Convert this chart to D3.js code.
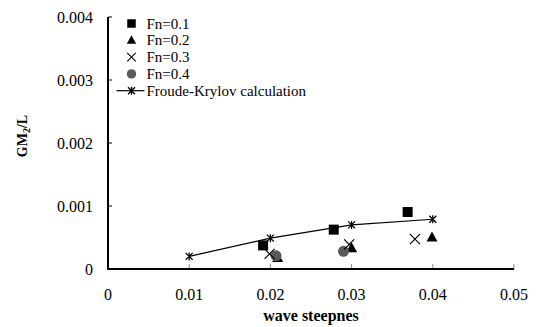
<!DOCTYPE html>
<html>
<head>
<meta charset="utf-8">
<script src="https://cdn.jsdelivr.net/npm/d3@7"></script>
<style>
  body { margin: 0; background: #fff; }
</style>
</head>
<body>
<div id="chart"></div>
<script>
// Data
const xTicks = [0, 0.01, 0.02, 0.03, 0.04, 0.05];
const yTicks = [0, 0.001, 0.002, 0.003, 0.004];

const fn01 = [[0.0191, 0.000375], [0.0278, 0.000625], [0.0369, 0.000905]];
const fn02 = [[0.0209, 0.000175], [0.0300, 0.00033], [0.0399, 0.00050]];
const fn03 = [[0.0199, 0.00024], [0.0297, 0.00039], [0.0378, 0.000475]];
const fn04 = [[0.0207, 0.00021], [0.0290, 0.00028]];
const froudeKrylov = [[0.01, 0.0002], [0.02, 0.00049], [0.03, 0.0007], [0.04, 0.00079]];

const legendItems = [
    { label: 'Fn=0.1', type: 'square' },
    { label: 'Fn=0.2', type: 'triangle' },
    { label: 'Fn=0.3', type: 'cross' },
    { label: 'Fn=0.4', type: 'circle' },
    { label: 'Froude-Krylov calculation', type: 'line' }
];

const FONT = '"Liberation Serif", "Times New Roman", Times, serif';
const W = 537, H = 327;
const margin = { top: 17, right: 23, bottom: 58, left: 108 };
const width = W - margin.left - margin.right;
const height = H - margin.top - margin.bottom;

const svg = d3.select('#chart').append('svg')
    .attr('width', W)
    .attr('height', H)
    .attr('font-family', FONT);

const g = svg.append('g')
    .attr('transform', `translate(${margin.left},${margin.top})`);

const x = d3.scaleLinear().domain([0, 0.05]).range([0, width]);
const y = d3.scaleLinear().domain([0, 0.004]).range([height, 0]);

// Ticks (drawn inside the plot)
g.selectAll('.xtick')
    .data(xTicks.slice(1))
    .enter().append('line')
    .attr('x1', d => x(d)).attr('x2', d => x(d))
    .attr('y1', height).attr('y2', height - 5)
    .attr('stroke', '#888').attr('stroke-width', 1);

g.selectAll('.ytick')
    .data(yTicks.slice(1))
    .enter().append('line')
    .attr('x1', 0).attr('x2', 4)
    .attr('y1', d => y(d)).attr('y2', d => y(d))
    .attr('stroke', '#000').attr('stroke-width', 1);

// Tick labels
g.selectAll('.xlabel')
    .data(xTicks)
    .enter().append('text')
    .attr('x', d => x(d))
    .attr('y', height + 31)
    .attr('text-anchor', 'middle')
    .attr('font-size', 16)
    .text(d => d === 0 ? '0' : d3.format('.2f')(d));

g.selectAll('.ylabel')
    .data(yTicks)
    .enter().append('text')
    .attr('x', -15)
    .attr('y', d => y(d) + 5.5)
    .attr('text-anchor', 'end')
    .attr('font-size', 16)
    .text(d => d === 0 ? '0' : d3.format('.3f')(d));

// Axis lines
g.append('line')
    .attr('x1', 0).attr('x2', 0).attr('y1', 0).attr('y2', height)
    .attr('stroke', '#000').attr('stroke-width', 2);
g.append('line')
    .attr('x1', -1).attr('x2', width).attr('y1', height).attr('y2', height)
    .attr('stroke', '#000').attr('stroke-width', 2);

// Axis titles
g.append('text')
    .attr('x', width / 2)
    .attr('y', height + 52)
    .attr('text-anchor', 'middle')
    .attr('font-size', 16)
    .attr('font-weight', 'bold')
    .text('wave steepnes');

const yTitle = svg.append('text')
    .attr('transform', 'translate(27,136) rotate(-90)')
    .attr('text-anchor', 'middle')
    .attr('font-size', 14)
    .attr('font-weight', 'bold');
yTitle.append('tspan').text('GM');
yTitle.append('tspan').attr('font-size', 10).attr('dy', 3).text('2');
yTitle.append('tspan').attr('dy', -3).text('/L');

// Marker drawing helpers
function drawMarker(sel, type, cx, cy) {
    if (type === 'square') {
        sel.append('rect')
            .attr('x', cx - 5).attr('y', cy - 5)
            .attr('width', 10).attr('height', 10)
            .attr('fill', '#000');
    } else if (type === 'triangle') {
        sel.append('path')
            .attr('d', `M${cx},${cy - 6}L${cx + 5.5},${cy + 4}L${cx - 5.5},${cy + 4}Z`)
            .attr('fill', '#000');
    } else if (type === 'cross') {
        sel.append('path')
            .attr('d', `M${cx - 5},${cy - 5}L${cx + 5},${cy + 5}M${cx + 5},${cy - 5}L${cx - 5},${cy + 5}`)
            .attr('stroke', '#000').attr('stroke-width', 1.2).attr('fill', 'none');
    } else if (type === 'circle') {
        sel.append('circle')
            .attr('cx', cx).attr('cy', cy).attr('r', 5.5)
            .attr('fill', '#595959');
    } else if (type === 'star') {
        sel.append('path')
            .attr('d', `M${cx - 3.5},${cy - 3.5}L${cx + 3.5},${cy + 3.5}M${cx + 3.5},${cy - 3.5}L${cx - 3.5},${cy + 3.5}M${cx},${cy - 4}L${cx},${cy + 4}`)
            .attr('stroke', '#000').attr('stroke-width', 1.3).attr('fill', 'none');
    }
}

const series = [
    { data: fn01, type: 'square' },
    { data: fn02, type: 'triangle' },
    { data: fn04, type: 'circle' },
    { data: fn03, type: 'cross' }
];

series.forEach(s => {
    const layer = g.append('g');
    s.data.forEach(d => drawMarker(layer, s.type, x(d[0]), y(d[1])));
});

// Froude-Krylov line with asterisk markers
const line = d3.line().x(d => x(d[0])).y(d => y(d[1]));
g.append('path')
    .datum(froudeKrylov)
    .attr('d', line)
    .attr('fill', 'none')
    .attr('stroke', '#000')
    .attr('stroke-width', 1.2);
const fkLayer = g.append('g');
froudeKrylov.forEach(d => drawMarker(fkLayer, 'star', x(d[0]), y(d[1])));

// Legend
const legend = svg.append('g').attr('transform', 'translate(131.5,23.5)');
legendItems.forEach((item, i) => {
    const ly = i * 16.8;
    if (item.type === 'line') {
        legend.append('line')
            .attr('x1', -15).attr('x2', 13).attr('y1', ly).attr('y2', ly)
            .attr('stroke', '#000').attr('stroke-width', 1.2);
        drawMarker(legend, 'star', 0, ly);
    } else {
        const small = legend.append('g')
            .attr('transform', `translate(0,${ly}) scale(0.85)`);
        drawMarker(small, item.type, 0, 0);
    }
    legend.append('text')
        .attr('x', 15).attr('y', ly + 5)
        .attr('font-size', 15)
        .text(item.label);
});
</script>
</body>
</html>
